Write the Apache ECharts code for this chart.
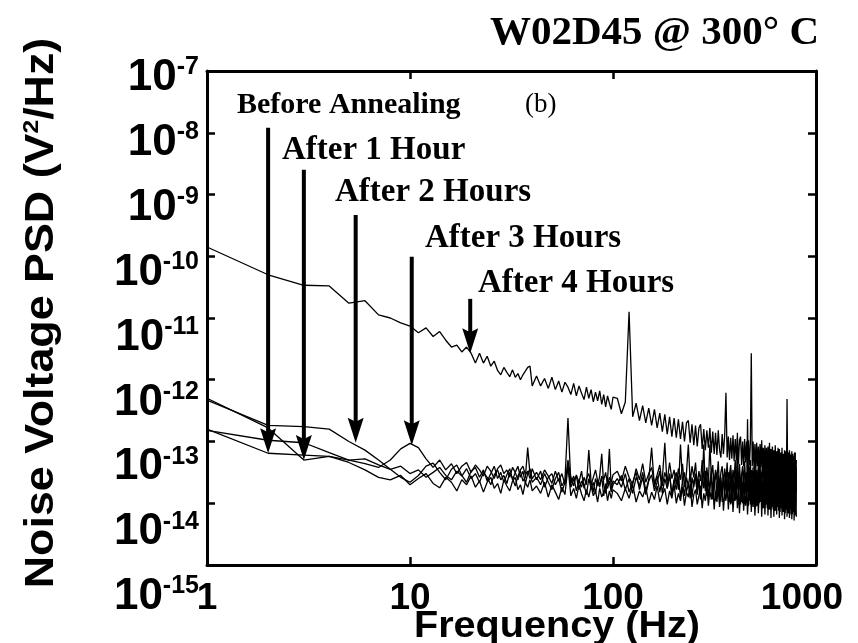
<!DOCTYPE html>
<html>
<head>
<meta charset="utf-8">
<script src="https://cdn.jsdelivr.net/npm/echarts@6/dist/echarts.min.js"></script>
<style>html,body{margin:0;padding:0;background:#fff;}#chart{width:858px;height:643px;}</style>
</head>
<body>
<div id="chart"></div>
<script>
// ---- data (PSD values stored as log10 exponents) ----
const freqHz = [
1,2,3,4,5,6,7,8,9,10,11,12,13,14,15,16,17,18,19,20,
21,22,23,24,25,26,27,28,29,30,31,32,33,34,35,36,37,38,39,40,
42,44,46,48,50,52,54,56,58,60,62,64,66,68,70,72,74,76,78,80,
82,84,86,88,90,92,94,96,98,100,
105,110,115,120,125,130,135,140,145,150,155,160,165,170,175,180,185,190,195,200,
205,210,215,220,225,230,235,240,245,250,255,260,265,270,275,280,285,290,295,300,
305,310,315,320,325,330,335,340,345,350,355,360,365,370,375,380,385,390,395,400,
405,410,415,420,425,430,435,440,445,450,455,460,465,470,475,480,485,490,495,500,
505,510,515,520,525,530,535,540,545,550,555,560,565,570,575,580,585,590,595,600,
605,610,615,620,625,630,635,640,645,650,655,660,665,670,675,680,685,690,695,700,
705,710,715,720,725,730,735,740,745,750,755,760,765,770,775,780,785,790,795,800
];
const expAfter4h = [
-9.85,-10.30,-10.47,-10.48,-10.76,-10.72,-10.95,-11.00,-11.08,-11.13,
-11.24,-11.16,-11.30,-11.22,-11.36,-11.47,-11.44,-11.55,-11.47,-11.57,
-11.73,-11.57,-11.73,-11.62,-11.78,-11.70,-11.85,-11.92,-11.80,-11.88,
-11.95,-11.84,-11.96,-11.90,-12.00,-11.92,-11.86,-11.80,-11.78,-12.10,
-11.94,-12.10,-11.98,-12.14,-11.96,-12.16,-12.02,-12.20,-12.04,-12.12,
-12.24,-12.06,-12.26,-12.10,-12.22,-12.32,-12.12,-12.30,-12.16,-12.36,
-12.20,-12.34,-12.18,-12.40,-12.24,-12.44,-12.26,-12.38,-12.48,-12.28,
-12.30,-12.55,-12.36,-10.90,-12.60,-12.38,-12.66,-12.42,-12.70,-12.46,
-12.74,-12.48,-12.78,-12.54,-12.84,-12.56,-12.88,-12.60,-12.92,-12.62,
-12.94,-12.64,-12.96,-12.68,-13.00,-12.70,-12.66,-13.02,-12.72,-13.06,
-12.74,-13.08,-12.78,-12.72,-13.12,-12.80,-13.14,-12.82,-13.10,-12.78,
-13.18,-12.84,-13.20,-12.86,-13.22,-12.82,-13.14,-13.26,-12.88,-13.20,
-12.90,-12.21,-13.26,-12.92,-13.30,-12.94,-13.28,-12.90,-13.32,-12.96,
-13.30,-12.94,-13.36,-12.98,-12.92,-13.38,-13.00,-13.40,-12.96,-13.34,
-13.00,-13.42,-12.98,-13.38,-13.02,-11.57,-13.40,-13.00,-13.44,-13.04,
-13.46,-13.02,-13.40,-13.08,-13.50,-13.04,-13.42,-12.98,-13.48,-13.10,
-13.52,-13.06,-13.46,-13.10,-13.54,-13.08,-13.50,-13.02,-13.56,-13.12,
-13.54,-13.08,-13.58,-13.14,-13.50,-13.06,-13.60,-13.16,-13.56,-13.10,
-13.62,-13.12,-13.54,-13.18,-13.64,-13.10,-13.58,-13.20,-13.66,-13.14,
-13.60,-13.16,-13.68,-12.31,-13.62,-13.18,-13.70,-13.14,-13.64,-13.22,
-13.72,-13.16,-13.66,-13.20,-13.74,-13.24,-13.68,-13.18,-13.76,-13.30
];
const expBefore = [
-12.80,-13.19,-13.22,-13.24,-13.30,-13.28,-13.38,-13.45,-13.40,-13.52,
-13.46,-13.58,-13.50,-13.42,-13.55,-13.62,-13.48,-13.56,-13.44,-13.60,
-13.52,-13.66,-13.50,-13.58,-13.70,-13.54,-13.46,-13.62,-13.55,-13.68,
-13.50,-13.60,-13.72,-13.56,-13.48,-13.64,-13.58,-13.10,-13.52,-13.66,
-13.58,-13.70,-13.52,-13.66,-13.78,-13.60,-13.50,-13.72,-13.62,-12.62,
-13.68,-13.56,-13.80,-13.64,-13.74,-13.58,-13.70,-13.14,-13.66,-13.82,
-13.60,-13.72,-13.56,-13.20,-13.70,-13.84,-13.62,-13.12,-13.76,-13.64,
-13.70,-13.55,-13.78,-13.60,-13.84,-13.58,-13.72,-13.50,-13.80,-13.62,
-13.10,-13.74,-13.56,-13.82,-13.60,-13.02,-13.76,-13.54,-13.86,-13.62,
-13.50,-13.78,-13.05,-13.66,-13.88,-13.58,-13.72,-13.52,-13.90,-13.64,
-13.56,-13.84,-13.60,-13.92,-13.54,-13.76,-13.48,-13.88,-13.62,-13.80,
-13.52,-13.94,-13.66,-13.50,-13.86,-13.60,-13.96,-13.58,-13.82,-13.54,
-13.90,-13.62,-13.84,-13.50,-13.98,-13.64,-13.80,-13.56,-13.94,-13.60,
-13.86,-12.86,-13.92,-13.58,-13.78,-13.52,-14.00,-13.66,-13.84,-13.56,
-13.96,-12.64,-13.88,-13.54,-14.02,-13.62,-13.80,-13.50,-13.98,-13.66,
-13.84,-13.52,-14.04,-13.60,-13.90,-13.48,-13.96,-13.64,-14.06,-13.56,
-13.86,-13.50,-14.00,-13.62,-14.08,-13.54,-13.92,-13.46,-14.04,-13.60,
-13.88,-13.52,-14.10,-13.58,-13.94,-13.48,-14.06,-13.64,-13.90,-13.50,
-14.12,-13.56,-13.96,-13.44,-14.08,-13.62,-13.92,-13.50,-14.14,-13.58,
-13.98,-13.46,-14.10,-13.54,-13.94,-13.48,-14.16,-13.60,-14.00,-13.52,
-14.12,-13.44,-14.18,-13.56,-13.96,-13.50,-14.20,-13.58,-14.06,-13.48
];
const expAfter1h = [
-12.30,-12.78,-13.30,-13.24,-13.34,-13.46,-13.58,-13.62,-13.55,-13.70,
-13.60,-13.52,-13.68,-13.75,-13.58,-13.66,-13.80,-13.62,-13.70,-13.56,
-13.74,-13.64,-13.82,-13.66,-13.58,-13.76,-13.68,-13.84,-13.62,-13.72,
-13.80,-13.64,-13.58,-13.78,-13.70,-13.86,-13.66,-13.74,-13.62,-13.80,
-13.72,-13.84,-13.66,-13.90,-13.70,-13.82,-13.94,-13.74,-13.86,-13.40,
-13.88,-13.76,-13.92,-13.70,-13.85,-13.96,-13.78,-13.90,-13.72,-13.88,
-13.80,-13.98,-13.76,-13.90,-13.82,-13.74,-13.96,-13.80,-13.92,-13.78,
-13.84,-13.96,-13.76,-13.92,-13.70,-13.98,-13.80,-13.90,-13.74,-14.00,
-13.82,-13.94,-13.72,-13.98,-13.86,-13.76,-14.02,-13.80,-13.92,-13.70,
-14.00,-13.84,-13.96,-13.74,-14.04,-13.82,-13.90,-13.68,-14.06,-13.86,
-13.78,-14.02,-13.88,-13.72,-14.08,-13.84,-13.96,-13.70,-14.04,-13.80,
-13.94,-13.66,-14.10,-13.82,-13.98,-13.74,-14.06,-13.86,-13.70,-14.12,
-13.84,-13.96,-13.68,-14.10,-13.78,-14.02,-13.72,-14.14,-13.86,-13.96,
-13.70,-14.08,-13.82,-14.16,-13.76,-13.98,-13.66,-14.12,-13.88,-14.04,
-13.74,-14.18,-13.86,-13.96,-13.68,-14.14,-13.80,-14.06,-13.72,-14.20,
-13.90,-14.04,-13.70,-14.16,-13.84,-13.98,-13.66,-14.22,-13.82,-14.08,
-13.72,-14.18,-13.88,-14.02,-13.68,-14.20,-13.80,-14.10,-13.74,-14.24,
-13.86,-14.06,-13.70,-14.22,-13.82,-14.12,-13.66,-14.18,-13.90,-14.04,
-13.74,-14.24,-13.84,-14.08,-13.68,-14.20,-13.80,-14.14,-13.72,-14.26,
-13.88,-14.10,-13.70,-14.22,-13.84,-14.16,-13.66,-14.24,-13.92,-14.08,
-13.76,-14.26,-13.86,-14.14,-13.70,-14.28,-13.82,-14.18,-13.74,-14.22
];
const expAfter2h = [
-12.33,-12.74,-12.76,-12.80,-13.00,-13.14,-13.30,-13.45,-13.58,-13.66,
-13.55,-13.40,-13.35,-13.50,-13.62,-13.45,-13.38,-13.55,-13.66,-13.48,
-13.42,-13.58,-13.46,-13.64,-13.52,-13.40,-13.60,-13.50,-13.66,-13.54,
-13.44,-13.62,-13.50,-13.40,-13.58,-13.48,-13.68,-13.52,-13.44,-13.60,
-13.50,-13.62,-13.46,-13.56,-13.68,-13.48,-13.64,-13.52,-13.70,-13.30,
-13.58,-13.72,-13.54,-13.66,-13.48,-13.76,-13.60,-13.52,-13.70,-13.58,
-13.46,-13.64,-13.74,-13.56,-13.62,-13.50,-13.70,-13.58,-13.66,-13.54,
-13.48,-13.64,-13.40,-13.58,-13.70,-13.44,-13.62,-13.36,-13.66,-13.52,
-13.42,-13.68,-13.54,-13.38,-13.72,-13.50,-13.64,-13.34,-13.60,-13.46,
-13.70,-13.44,-13.62,-13.36,-13.74,-13.52,-13.05,-13.66,-13.40,-13.58,
-13.34,-13.72,-13.48,-13.64,-13.30,-13.60,-13.76,-13.42,-13.68,-13.05,
-13.56,-13.38,-13.74,-13.46,-13.62,-13.32,-13.78,-13.50,-13.40,-13.70,
-13.44,-13.66,-13.34,-13.80,-13.52,-13.38,-13.72,-13.46,-13.62,-13.30,
-13.76,-13.48,-13.66,-13.36,-13.82,-13.54,-13.40,-13.74,-13.32,-13.68,
-13.50,-13.80,-13.38,-13.64,-13.30,-13.84,-13.56,-13.42,-13.76,-13.34,
-13.70,-13.46,-13.86,-13.36,-13.60,-13.28,-13.82,-13.52,-13.40,-13.78,
-13.32,-13.66,-13.44,-13.88,-13.38,-13.72,-13.26,-13.80,-13.50,-13.36,
-13.84,-13.42,-13.70,-13.30,-13.90,-13.46,-13.64,-13.24,-13.86,-13.40,
-13.74,-13.32,-13.92,-13.48,-13.28,-13.80,-13.38,-13.88,-13.22,-13.68,
-13.44,-13.94,-13.34,-13.76,-13.26,-13.86,-13.42,-13.70,-13.20,-13.90,
-13.36,-13.78,-13.24,-13.96,-13.46,-13.72,-13.18,-13.88,-13.40,-13.82
];
const expAfter3h = [
-12.82,-12.98,-13.02,-13.18,-13.30,-13.36,-13.42,-13.30,-13.12,-13.03,
-13.10,-13.28,-13.42,-13.30,-13.46,-13.36,-13.52,-13.40,-13.34,-13.50,
-13.38,-13.46,-13.56,-13.40,-13.48,-13.60,-13.44,-13.38,-13.52,-13.46,
-13.58,-13.42,-13.50,-13.62,-13.46,-13.40,-13.54,-13.48,-13.60,-13.44,
-13.62,-13.48,-13.74,-13.58,-13.52,-13.70,-13.60,-13.82,-13.66,-13.38,
-13.74,-13.62,-13.56,-13.78,-13.64,-13.70,-13.86,-13.60,-13.76,-13.66,
-13.84,-13.62,-13.70,-13.58,-13.88,-13.68,-13.76,-13.64,-13.82,-13.70,
-13.60,-13.74,-13.52,-13.82,-13.66,-13.50,-13.78,-13.58,-13.86,-13.64,
-13.54,-13.80,-13.66,-13.48,-13.84,-13.60,-13.76,-13.52,-13.88,-13.62,
-13.78,-13.56,-13.90,-13.64,-13.50,-13.82,-13.68,-13.92,-13.58,-13.74,
-13.52,-13.86,-13.62,-13.94,-13.70,-13.05,-13.80,-13.58,-13.90,-13.66,
-13.48,-13.84,-13.60,-13.96,-13.72,-13.54,-13.88,-13.64,-13.98,-13.56,
-13.80,-13.50,-13.92,-13.66,-13.76,-13.46,-14.00,-13.62,-13.86,-13.54,
-13.94,-13.60,-13.78,-13.48,-14.02,-13.68,-13.84,-13.52,-13.96,-13.64,
-13.82,-13.50,-14.04,-13.62,-13.88,-13.46,-13.98,-13.70,-13.80,-13.56,
-14.06,-13.64,-13.86,-13.44,-14.00,-13.58,-13.92,-13.50,-14.08,-13.66,
-13.84,-13.46,-14.02,-13.60,-13.94,-13.42,-14.10,-13.62,-13.88,-13.52,
-14.04,-13.56,-13.90,-13.44,-14.12,-13.66,-13.82,-13.40,-14.06,-13.60,
-13.92,-13.48,-14.14,-13.58,-13.86,-13.42,-14.08,-13.64,-13.96,-13.50,
-14.16,-13.56,-13.88,-13.40,-14.10,-13.62,-13.94,-13.46,-14.18,-13.58,
-13.90,-13.38,-14.14,-13.60,-13.84,-13.44,-14.20,-13.54,-13.98,-13.42
];
const seriesNames = ['Before Annealing', 'After 1 Hour', 'After 2 Hours', 'After 3 Hours', 'After 4 Hours'];
const arrowFreqHz = [2, 3, 5.4, 10.2, 19.8];
const arrowTopExp = [-7.92, -8.60, -9.33, -10.01, -10.69];
const arrowTipExp = [-13.19, -13.30, -13.02, -13.06, -11.57];
const xTickValues = [1, 10, 100, 1000];
const yTickExps = [-15, -14, -13, -12, -11, -10, -9, -8, -7];

// ---- chart ----
const sans = "'Liberation Sans', Arial, sans-serif";
const serif = "'Liberation Serif', 'Times New Roman', serif";
const chart = echarts.init(document.getElementById('chart'), null, {renderer: 'canvas'});
const toPairs = exps => freqHz.map((f, i) => [f, Math.pow(10, exps[i])]);
const allExps = [expBefore, expAfter1h, expAfter2h, expAfter3h, expAfter4h];
const yMin = Math.pow(10, yTickExps[0]);
const yMax = Math.pow(10, yTickExps[yTickExps.length - 1]);
const xMin = xTickValues[0];
const xMax = xTickValues[xTickValues.length - 1];

const frameLine = {show: true, onZero: false, lineStyle: {color: '#000', width: 3}};
const tickStyle = {show: true, inside: true, length: 8, lineStyle: {color: '#000', width: 2.5}};

const lineSeries = allExps.map((exps, k) => ({
  name: seriesNames[k], type: 'line', xAxisIndex: 0, yAxisIndex: 0,
  data: toPairs(exps), showSymbol: false, symbol: 'none',
  lineStyle: {color: '#000', width: 1.3}, silent: true, z: 2
}));

const arrowSeries = {
  type: 'custom', xAxisIndex: 0, yAxisIndex: 0, clip: false, silent: true, z: 5,
  data: arrowFreqHz.map((f, i) => [f, Math.pow(10, arrowTopExp[i]), Math.pow(10, arrowTipExp[i])]),
  encode: {x: 0, y: [1, 2]},
  renderItem: function (params, api) {
    const f = api.value(0);
    const p0 = api.coord([f, api.value(1)]);
    const p1 = api.coord([f, api.value(2)]);
    const hl = 25, hw = 8, notch = 4;
    return {type: 'group', children: [
      {type: 'line', shape: {x1: p0[0], y1: p0[1], x2: p1[0], y2: p1[1] - hl + notch + 1},
       style: {stroke: '#000', lineWidth: 4}},
      {type: 'polygon', shape: {points: [[p1[0] - hw, p1[1] - hl], [p1[0], p1[1] - hl + notch], [p1[0] + hw, p1[1] - hl], [p1[0], p1[1]]]},
       style: {fill: '#000'}}
    ]};
  }
};

function gtext(x, y, text, font, extra) {
  return Object.assign({
    type: 'text', x: x, y: y, z: 100,
    style: {text: text, font: font, fill: '#000', textAlign: 'left', align: 'left', textVerticalAlign: 'middle', verticalAlign: 'middle'}
  }, extra || {});
}

const option = {
  animation: false,
  backgroundColor: '#fff',
  grid: [
    {left: 207, top: 71, width: 609, height: 494, containLabel: false, outerBoundsMode: 'none'},
    // label-only grid: the printed exponent labels sit on a slightly taller scale than the frame ticks
    {left: 207, top: 78, width: 609, height: 519, containLabel: false, outerBoundsMode: 'none'}
  ],
  xAxis: [
    {type: 'log', logBase: 10, min: xMin, max: xMax, position: 'bottom', gridIndex: 0,
     axisLine: frameLine, axisTick: tickStyle, splitLine: {show: false}, minorTick: {show: false},
     axisLabel: {show: true, margin: 15, color: '#000', fontFamily: sans, fontWeight: 'bold', fontSize: 37,
       formatter: v => {
         const r = Math.round(v);
         return r === xMax ? '{m|' + r + '}' : String(r);
       },
       rich: {m: {fontFamily: sans, fontWeight: 'bold', fontSize: 37, color: '#000', padding: [0, 28, 0, 0]}}
     }},
    {type: 'log', logBase: 10, min: xMin, max: xMax, position: 'top', gridIndex: 0,
     axisLine: frameLine, axisTick: tickStyle, axisLabel: {show: false}, splitLine: {show: false}},
    {type: 'log', logBase: 10, min: xMin, max: xMax, gridIndex: 1, show: false}
  ],
  yAxis: [
    {type: 'log', logBase: 10, min: yMin, max: yMax, splitNumber: yTickExps.length - 1, position: 'left', gridIndex: 0,
     axisLine: frameLine, axisTick: tickStyle, splitLine: {show: false}, minorTick: {show: false},
     axisLabel: {show: false}},
    {type: 'log', logBase: 10, min: yMin, max: yMax, splitNumber: yTickExps.length - 1, position: 'right', gridIndex: 0,
     axisLine: frameLine, axisTick: tickStyle, axisLabel: {show: false}, splitLine: {show: false}},
    {type: 'log', logBase: 10, min: yMin, max: yMax, splitNumber: yTickExps.length - 1, position: 'left', gridIndex: 1,
     axisLine: {show: false}, axisTick: {show: false}, splitLine: {show: false}, minorTick: {show: false},
     axisLabel: {show: true, margin: 8,
       formatter: v => '{b|10}{s|' + Math.round(Math.log10(v)) + '}',
       rich: {
         b: {fontFamily: sans, fontWeight: 'bold', fontSize: 44, color: '#000', lineHeight: 46},
         s: {fontFamily: sans, fontWeight: 'bold', fontSize: 25, color: '#000', lineHeight: 26, verticalAlign: 'top'}
       }}}
  ],
  series: lineSeries.concat([arrowSeries]),
  graphic: [
    gtext(490, 33, 'W02D45 @ 300° C', 'bold 41px ' + serif),
    gtext(237, 105, seriesNames[0], 'bold 30px ' + serif),
    gtext(282, 150, seriesNames[1], 'bold 33px ' + serif),
    gtext(335, 192, seriesNames[2], 'bold 33px ' + serif),
    gtext(425, 238, seriesNames[3], 'bold 33px ' + serif),
    gtext(478, 283, seriesNames[4], 'bold 33px ' + serif),
    gtext(525, 105, '(b)', '27px ' + serif),
    {type: 'text', x: 557, y: 627, z: 100, scaleX: 1.1,
     style: {text: 'Frequency (Hz)', font: 'bold 36px ' + sans, fill: '#000',
             textAlign: 'center', align: 'center', textVerticalAlign: 'middle', verticalAlign: 'middle'}},
    {type: 'text', x: 42, y: 313, z: 100, rotation: Math.PI / 2, scaleX: 1.12,
     style: {text: '{a|Noise Voltage PSD (V}{s|2}{a|/Hz)}', fill: '#000',
             textAlign: 'center', align: 'center', textVerticalAlign: 'middle', verticalAlign: 'middle',
             rich: {
               a: {fontFamily: sans, fontWeight: 'bold', fontSize: 40, fill: '#000', lineHeight: 42},
               s: {fontFamily: sans, fontWeight: 'bold', fontSize: 22, fill: '#000', lineHeight: 22, verticalAlign: 'top'}
             }}}
  ]
};
chart.setOption(option);
</script>
</body>
</html>
